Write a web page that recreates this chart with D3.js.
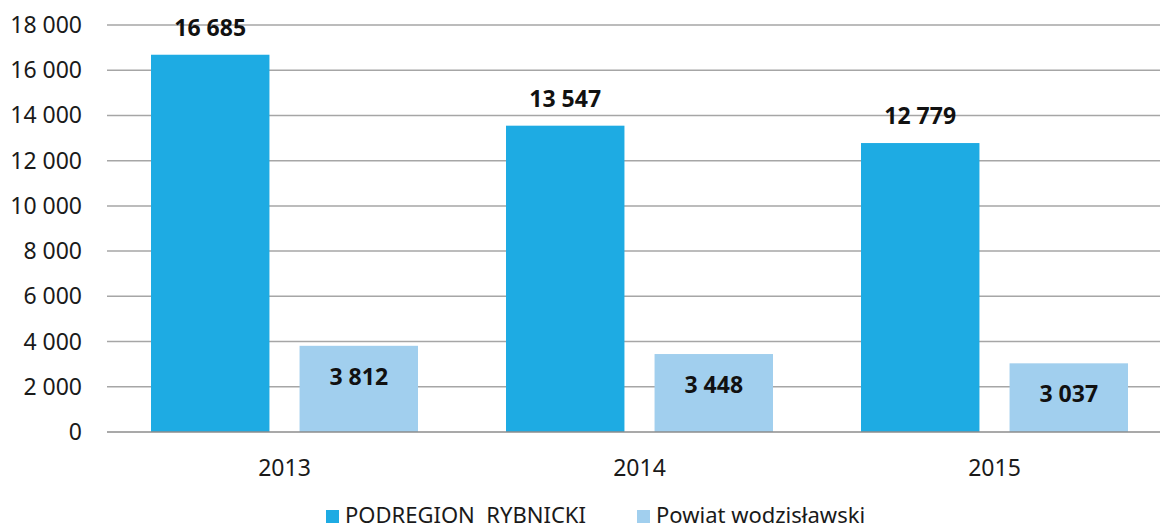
<!DOCTYPE html>
<html>
  <head>
    <meta charset="utf-8" />
    <style>
      body { margin: 0; background: #fff; }
      svg { display: block; font-family: "Noto Sans", sans-serif; }
      .grid line { stroke: #a6a6a6; stroke-width: 1.5px; }
      .tick-label { font-size: 23px; fill: #1a1a1a; }
      .legend-label { font-size: 22px; fill: #1a1a1a; }
      .value { font-size: 23px; font-weight: bold; fill: #111; }
    </style>
  </head>
  <body>
    <svg id="chart"></svg>
    <script src="https://d3js.org/d3.v7.min.js"></script>
    <script>
      const years = ["2013", "2014", "2015"];
      const seriesNames = ["PODREGION  RYBNICKI", "Powiat wodzisławski"];
      const podregion = [16685, 13547, 12779];
      const powiat = [3812, 3448, 3037];
      const yTicks = [0, 2000, 4000, 6000, 8000, 10000, 12000, 14000, 16000, 18000];
      const colors = ["#1eabe3", "#a1cfee"];

      const width = 1160;
      const height = 531;
      const plotLeft = 107;
      const plotTop = 25;
      const plotBottom = 432;
      const bandWidth = 355;

      const fmt = (v) => d3.format(",")(v).replace(/,/g, " ");

      const svg = d3.select("#chart").attr("width", width).attr("height", height);

      const x = d3
        .scaleBand()
        .domain(years)
        .range([plotLeft, plotLeft + bandWidth * years.length])
        .paddingInner(0)
        .paddingOuter(0);

      const x1 = d3
        .scaleBand()
        .domain([0, 1])
        .range([44, bandWidth - 44])
        .paddingInner(30 / 148);

      const y = d3.scaleLinear().domain([0, 18000]).range([plotBottom, plotTop]);

      // gridlines
      svg
        .append("g")
        .attr("class", "grid")
        .selectAll("line")
        .data(yTicks.filter((t) => t > 0))
        .join("line")
        .attr("x1", plotLeft)
        .attr("x2", width)
        .attr("y1", (d) => y(d))
        .attr("y2", (d) => y(d));

      // y tick labels
      svg
        .append("g")
        .selectAll("text")
        .data(yTicks)
        .join("text")
        .attr("class", "tick-label")
        .attr("x", 82)
        .attr("y", (d) => y(d))
        .attr("dy", "0.35em")
        .attr("text-anchor", "end")
        .text(fmt);

      const series = [podregion, powiat];

      const groups = svg
        .append("g")
        .selectAll("g")
        .data(years)
        .join("g")
        .attr("transform", (d) => `translate(${x(d)},0)`);

      groups
        .selectAll("rect")
        .data((d, i) => series.map((s, k) => ({ k, v: s[i] })))
        .join("rect")
        .attr("x", (d) => x1(d.k))
        .attr("width", x1.bandwidth())
        .attr("y", (d) => y(d.v))
        .attr("height", (d) => plotBottom - y(d.v))
        .attr("fill", (d) => colors[d.k]);

      groups
        .selectAll("text.value")
        .data((d, i) => series.map((s, k) => ({ k, v: s[i] })))
        .join("text")
        .attr("class", "value")
        .attr("x", (d) => x1(d.k) + x1.bandwidth() / 2)
        .attr("y", (d) => (d.k === 0 ? y(d.v) - 19 : y(d.v) + 39))
        .attr("text-anchor", "middle")
        .text((d) => fmt(d.v));

      // axis line
      svg
        .append("line")
        .attr("x1", plotLeft)
        .attr("x2", width)
        .attr("y1", plotBottom)
        .attr("y2", plotBottom)
        .attr("stroke", "#8c8c8c")
        .attr("stroke-width", 1.5);

      // year labels
      svg
        .append("g")
        .selectAll("text")
        .data(years)
        .join("text")
        .attr("class", "tick-label")
        .attr("x", (d) => x(d) + bandWidth / 2)
        .attr("y", 476)
        .attr("text-anchor", "middle")
        .text((d) => d);

      // legend
      const legendX = [326, 637];
      const legend = svg
        .append("g")
        .selectAll("g")
        .data(seriesNames)
        .join("g")
        .attr("transform", (d, i) => `translate(${legendX[i]},0)`);
      legend
        .append("rect")
        .attr("x", 0)
        .attr("y", 510)
        .attr("width", 13)
        .attr("height", 13)
        .attr("fill", (d, i) => colors[i]);
      legend
        .append("text")
        .attr("class", "legend-label")
        .attr("x", 19)
        .attr("y", 523)
        .attr("xml:space", "preserve")
        .text((d) => d);
    </script>
  </body>
</html>
